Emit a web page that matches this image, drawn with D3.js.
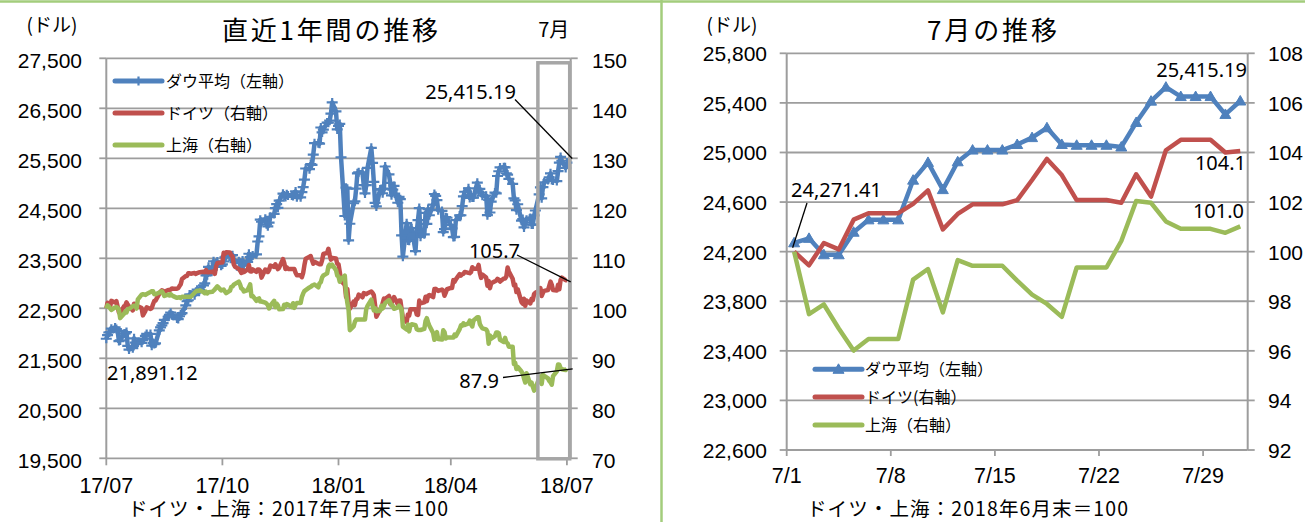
<!DOCTYPE html>
<html><head><meta charset="utf-8">
<script src="https://cdn.jsdelivr.net/npm/d3@7"></script>
<style>
html,body{margin:0;padding:0;background:#fff;}
svg{display:block;}
</style></head><body>
<svg id="chart" width="1305" height="522"></svg>
<script>
// ---------------- DATA ----------------
// Left chart: daily (weekdays) from 2017-07-31 to 2018-07-31
const leftStartDate = "2017-07-31";
const dowDaily = [
21891,21964,22016,22026,22093, 22118,22085,22048,21844,21858, 21993,21998,22025,21750,21675,
21703,21899,21812,21783,21814, 21809,21865,21892,21948,21988, 21988,21753,21807,21784,21798,
22057,22118,22159,22203,22268, 22331,22370,22412,22359,22349, 22296,22284,22341,22381,22405,
22557,22641,22661,22775,22773, 22761,22830,22872,22841,22871, 22957,22998,23158,23163,23329,
23274,23441,23330,23401,23434, 23349,23377,23436,23517,23539, 23548,23557,23563,23462,23422,
23440,23410,23272,23458,23358, 23430,23591,23526,23526,23558, 23580,23836,23940,24272,24231,
24290,24180,24140,24212,24329, 24387,24505,24585,24509,24652, 24792,24754,24726,24782,24754,
24754,24746,24774,24838,24719, 24719,24824,24922,25075,25296, 25283,25386,25370,25575,25803,
25803,25793,26116,26018,26072, 26215,26211,26252,26393,26617, 26439,26077,26149,26187,25521,
24346,24913,24893,23860,24191, 24601,24640,24893,25200,25219, 25219,24965,24798,24962,25310,
25709,25410,25029,24608,24538, 24875,24885,24801,24895,25336, 25178,25008,24759,24874,24947,
24611,24727,24683,23958,23533, 24202,23857,23849,24103,24103, 23644,24034,24265,24505,23933,
23979,24408,24190,24484,24361, 24573,24786,24748,24665,24463, 24448,24024,24084,24323,24311,
24163,24100,23925,23930,24263, 24358,24361,24543,24740,24831, 24900,24706,24769,24714,24715,
25013,24835,24887,24812,24753, 24753,24362,24668,24416,24635, 24814,24800,25146,25241,25317,
25323,25320,25201,25175,25090, 24988,24700,24657,24462,24581, 24253,24284,24117,24216,24271,
24307,24175,24175,24357,24456, 24777,24920,24700,24925,25019, 25064,25120,25199,25065,25058,
25044,25242,25414,25527,25451, 25307,25415.19
];
const germanyDaily = [
100.00,101.10,100.52,100.29,101.48, 101.15,101.43,100.29,99.14,99.14, 100.39,100.49,101.19,100.71,100.39,
99.57,100.91,100.47,100.51,100.41, 100.04,98.58,99.04,99.49,100.20, 99.87,100.05,100.80,101.47,101.53,
102.94,103.35,103.59,103.48,103.31, 103.65,103.65,103.73,103.98,103.91, 103.93,104.02,104.45,104.83,105.86,
106.48,106.48,107.03,107.01,106.91, 107.08,106.86,107.03,107.13,107.21, 107.31,107.23,107.64,107.20,107.20,
107.30,107.38,106.89,108.38,109.07, 109.17,109.17,111.11,110.91,111.23, 111.15,110.63,110.43,108.79,108.32,
107.89,107.55,107.08,107.66,107.23, 107.76,108.66,107.40,107.34,107.77, 107.28,107.77,107.78,107.47,106.13,
107.76,107.67,107.26,107.65,108.55, 108.29,108.79,108.32,107.84,108.13, 109.85,109.05,107.85,108.18,107.88,
107.88,107.88,107.85,107.10,106.60, 106.60,106.21,107.10,108.65,109.92, 110.30,110.45,109.60,108.94,109.30,
108.93,108.79,108.79,109.60,110.86, 111.10,111.90,110.70,109.74,110.08, 109.95,108.90,108.84,107.31,105.50,
104.69,102.26,103.89,101.17,99.91, 101.35,100.64,101.82,101.87,102.75, 102.20,103.05,102.90,102.83,103.02,
103.37,103.07,102.62,100.59,98.31, 99.77,99.97,101.05,101.95,101.88, 102.47,100.86,100.99,101.87,102.24,
100.81,101.56,101.57,99.85,98.08, 97.27,98.78,98.53,99.82,99.82, 99.82,98.78,98.67,101.54,101.01,
101.18,102.30,101.44,102.45,102.67, 102.25,103.85,103.89,103.70,103.48, 103.74,103.56,102.51,103.15,103.81,
104.07,104.07,105.64,105.32,105.79, 106.85,106.55,106.81,106.90,107.28, 107.09,107.03,107.24,108.22,107.92,
107.92,108.68,107.09,106.08,106.76, 106.15,104.52,105.49,104.02,105.00, 105.39,105.53,105.88,105.72,105.35,
105.97,105.97,106.37,108.16,107.37, 105.92,104.61,104.76,103.25,103.81, 101.25,100.91,101.90,100.49,101.55,
100.99,101.90,101.65,102.85,103.12, 103.51,104.06,102.47,103.09,103.49, 103.65,104.49,105.35,104.69,103.66,
103.55,104.71,103.81,105.70,106.12, 105.61,105.67
];
const shanghaiDaily = [
100.00,100.60,100.37,100.00,99.67, 100.20,100.27,100.08,99.66,98.03, 98.91,99.33,99.19,99.86,99.87,
100.42,100.53,100.45,99.95,101.79, 102.74,102.82,102.77,102.68,102.87, 103.26,103.40,103.43,102.83,102.82,
103.16,103.25,103.40,103.01,102.46, 102.74,102.56,102.84,102.59,102.43, 102.09,102.16,102.21,102.04,102.32,
102.32,102.32,102.32,102.32,102.32, 103.10,103.36,103.52,103.45,103.59, 103.22,103.02,103.32,102.97,103.23,
103.29,103.52,103.78,104.11,104.39, 103.58,103.68,103.75,103.37,103.02, 103.52,104.29,104.35,104.73,104.88,
105.34,104.78,103.96,103.86,103.36, 103.65,104.20,104.81,102.41,102.47, 101.50,101.85,101.98,101.35,101.36,
101.12,100.94,100.64,99.97,100.52, 101.50,100.24,100.92,100.59,99.79, 99.84,100.72,100.45,100.83,100.73,
100.23,101.01,100.08,100.71,101.04, 101.04,102.30,102.94,103.44,103.63, 104.17,104.30,104.55,104.65,104.76,
104.20,105.00,105.24,106.16,106.56, 106.98,108.36,108.75,108.41,108.71, 107.64,106.57,106.35,105.31,105.78,
106.55,102.98,101.11,99.66,95.63, 96.37,97.31,97.74,97.74,97.74, 97.74,97.74,97.74,99.86,100.49,
101.73,100.58,99.58,100.02,99.43, 99.51,100.51,99.96,100.47,101.04, 101.64,101.14,100.56,100.55,99.90,
100.19,100.54,100.24,99.71,96.33, 95.74,96.75,95.39,96.56,96.82, 96.64,95.83,95.66,95.66,95.66,
95.88,97.47,98.02,97.16,96.52, 95.04,93.70,94.45,95.24,93.84, 93.74,95.60,95.26,93.95,94.17,
94.17,94.17,94.14,94.74,94.44, 95.83,96.59,96.52,96.99,96.65, 96.98,97.53,96.84,96.37,97.56,
98.19,98.21,96.82,96.38,95.98, 95.78,95.34,92.91,94.58,93.95, 94.44,95.15,95.18,95.00,93.71,
93.27,94.10,93.18,93.01,92.33, 92.33,88.84,89.08,87.86,88.29, 87.36,86.91,85.95,85.15,87.00,
84.80,85.15,84.30,83.53,83.94, 86.01,86.39,84.87,86.70,86.50, 85.98,85.49,85.16,84.71,86.44,
87.37,88.77,88.71,88.06,87.80, 87.66,87.88
];
const leftDowTicks = [19500,20500,21500,22500,23500,24500,25500,26500,27500];
const leftIdxTicks = [70,80,90,100,110,120,130,140,150];
const leftDateTicks = ["2017-07-31","2017-10-31","2018-01-31","2018-04-30","2018-07-31"];
const leftDateLabels = ["17/07","17/10","18/01","18/04","18/07"];
const julyBox = ["2018-07-08","2018-08-03"];

// Right chart: July 2018, daily (calendar days)
const julyDays = [1,2,3,4,5,6,7,8,9,10,11,12,13,14,15,16,17,18,19,20,21,22,23,24,25,26,27,28,29,30,31];
const dowJuly = [24271.41,24307.18,24174.82,24174.82,24356.74,24456.48,24456.48,24456.48,24776.59,24919.66,
  24700.45,24924.89,25019.41,25019.41,25019.41,25064.36,25119.89,25199.29,25064.50,25058.12,25058.12,
  25058.12,25044.29,25241.94,25414.10,25527.07,25451.06,25451.06,25451.06,25306.83,25415.19];
const germanyJuly = [100.00,99.45,100.35,100.09,101.29,101.55,101.55,101.55,101.93,102.47,100.90,101.52,
  101.91,101.91,101.91,102.08,102.89,103.74,103.09,102.08,102.08,102.08,101.97,103.12,102.22,104.09,
  104.51,104.51,104.51,104.00,104.06];
const shanghaiJuly = [100.00,97.48,97.87,96.90,96.01,96.48,96.48,96.48,98.87,99.30,97.55,99.66,99.43,
  99.43,99.43,98.83,98.27,97.89,97.37,99.36,99.36,99.36,100.43,102.04,101.97,101.22,100.92,100.92,
  100.92,100.76,101.02];
const rightDowTicks = [22600,23000,23400,23800,24200,24600,25000,25400,25800];
const rightIdxTicks = [92,94,96,98,100,102,104,106,108];
const julyTickDays = [1,8,15,22,29];
const julyTickLabels = ["7/1","7/8","7/15","7/22","7/29"];

const seriesNames = ["ダウ平均（左軸）","ドイツ（右軸）","上海（右軸）"];
const seriesNamesRight = ["ダウ平均（左軸）","ドイツ(右軸）","上海（右軸）"];

// ---------------- STYLE ----------------
const C = {blue:"#4F81BD", red:"#C0504D", green:"#9BBB59", grid:"#9d9d9d", frame:"#a3cd7c"};
const JP = "'Noto Sans CJK JP','Noto Sans',sans-serif";
const NUM = "'Liberation Sans',Arial,sans-serif";
const ANN = "'Noto Sans','DejaVu Sans',sans-serif";

const svg = d3.select("#chart");
const fmt = d3.format(",");
const parse = d3.timeParse("%Y-%m-%d");

// frame
svg.append("line").attr("x1",0).attr("x2",1305).attr("y1",1.5).attr("y2",1.5)
  .attr("stroke",C.frame).attr("stroke-width",2.5);
svg.append("line").attr("x1",661.5).attr("x2",661.5).attr("y1",0).attr("y2",522)
  .attr("stroke",C.frame).attr("stroke-width",2.5);

function txt(g, x, y, s, size, fam, anchor, extra) {
  const t = g.append("text").attr("x",x).attr("y",y).text(s)
    .attr("font-size",size).attr("font-family",fam).attr("fill","#000")
    .attr("text-anchor",anchor||"start");
  if (extra) Object.entries(extra).forEach(([k,v]) => t.attr(k,v));
  return t;
}
const plusPath = "M-5.5,0H5.5M0,-4.5V4.5";
const triPath = "M0,-5.5L5.5,4L-5.5,4Z";

// ================= LEFT CHART =================
{
  const g = svg.append("g");
  const X0 = 106.3, X1 = 570.7, Y0 = 458.3, Y1 = 58.3;
  const x = d3.scaleTime().domain([parse("2017-07-31"), parse("2018-08-03")]).range([X0, X1]);
  const y = d3.scaleLinear().domain([19500, 27500]).range([Y0, Y1]);
  const yr = d3.scaleLinear().domain([70, 150]).range([Y0, Y1]);

  const start = parse(leftStartDate);
  const dates = d3.timeDay.range(start, d3.timeDay.offset(start, 400))
    .filter(d => d.getDay() !== 0 && d.getDay() !== 6);

  g.selectAll(".gl").data(leftDowTicks).join("line")
    .attr("x1",X0).attr("x2",X1).attr("y1",d=>y(d)).attr("y2",d=>y(d))
    .attr("stroke",C.grid).attr("stroke-width",1.8);
  g.append("line").attr("x1",X0).attr("x2",X0).attr("y1",Y1).attr("y2",Y0).attr("stroke",C.grid).attr("stroke-width",2);
  g.append("line").attr("x1",X1).attr("x2",X1).attr("y1",Y1).attr("y2",Y0).attr("stroke",C.grid).attr("stroke-width",2);
  g.selectAll(".tl").data(leftDowTicks).join("line")
    .attr("x1",X0-7).attr("x2",X0).attr("y1",d=>y(d)).attr("y2",d=>y(d)).attr("stroke",C.grid).attr("stroke-width",1.8);
  g.selectAll(".tr").data(leftIdxTicks).join("line")
    .attr("x1",X1).attr("x2",X1+7).attr("y1",d=>yr(d)).attr("y2",d=>yr(d)).attr("stroke",C.grid).attr("stroke-width",1.8);
  g.selectAll(".tb").data(leftDateTicks).join("line")
    .attr("x1",d=>x(parse(d))).attr("x2",d=>x(parse(d))).attr("y1",Y0).attr("y2",Y0+7).attr("stroke",C.grid).attr("stroke-width",1.8);

  leftDowTicks.forEach(v => txt(g, 82, y(v)+10, fmt(v), 21, NUM, "end"));
  leftIdxTicks.forEach(v => txt(g, 592, yr(v)+10, String(v), 21, NUM, "start"));
  leftDateTicks.forEach((d,i) => txt(g, x(parse(d)), 493, leftDateLabels[i], 21.5, NUM, "middle"));

  const n = dowDaily.length;
  const dD = dates.slice(0, n);
  const lineDow = d3.line().x((d,i)=>x(dD[i])).y(d=>y(d));
  const lineIdx = d3.line().x((d,i)=>x(dD[i])).y(d=>yr(d));
  g.append("path").attr("d",lineDow(dowDaily)).attr("fill","none").attr("stroke",C.blue)
    .attr("stroke-width",4.5).attr("stroke-linejoin","round");
  g.selectAll(".mk").data(dowDaily).join("path")
    .attr("d",plusPath).attr("transform",(d,i)=>`translate(${x(dD[i])},${y(d)})`)
    .attr("stroke",C.blue).attr("stroke-width",2.2).attr("fill","none");
  g.append("path").attr("d",lineIdx(germanyDaily)).attr("fill","none").attr("stroke",C.red)
    .attr("stroke-width",4.5).attr("stroke-linejoin","round");
  g.append("path").attr("d",lineIdx(shanghaiDaily)).attr("fill","none").attr("stroke",C.green)
    .attr("stroke-width",4.5).attr("stroke-linejoin","round");

  const bx0 = x(parse(julyBox[0])), bx1 = x(parse(julyBox[1])) - 1;
  g.append("rect").attr("x",bx0).attr("y",Y1+4.5).attr("width",bx1-bx0).attr("height",Y0-Y1-4)
    .attr("fill","none").attr("stroke","#a6a6a6").attr("stroke-width",3.5);
  txt(g, (bx0+bx1)/2, 37, "7月", 20, JP, "middle");

  const legY = [81, 113, 145], legC = [C.blue, C.red, C.green];
  legY.forEach((ly,i) => {
    g.append("line").attr("x1",115).attr("x2",162).attr("y1",ly).attr("y2",ly)
      .attr("stroke",legC[i]).attr("stroke-width",5).attr("stroke-linecap","round");
    if (i===0) g.append("path").attr("d",plusPath).attr("transform",`translate(138.5,${ly})`)
      .attr("stroke",C.blue).attr("stroke-width",2.2);
    txt(g, 166, ly+6, seriesNames[i], 16, JP, "start");
  });

  const lastI = n-1;
  const ann = (s, tx, ty, anchor, l) => {
    txt(g, tx, ty, s, 20, ANN, anchor);
    if (l) g.append("line").attr("x1",l[0]).attr("y1",l[1]).attr("x2",l[2]).attr("y2",l[3])
      .attr("stroke","#000").attr("stroke-width",1.3);
  };
  ann("25,415.19", 516, 99, "end", [515, 99.5, X1+1.5, y(dowDaily[lastI])-4]);
  ann("105.7", 520, 258, "end", [517, 255, X1, yr(germanyDaily[lastI])+2]);
  ann("87.9", 499, 388, "end", [503, 377.5, X1+2, yr(shanghaiDaily[lastI])]);
  ann("21,891.12", 107, 380, "start", null);

  txt(g, 52, 31.5, "(ドル)", 19, JP, "middle");
  txt(g, 222, 40, "直近1年間の推移", 26, JP, "start", {textLength:216, lengthAdjust:"spacing"});
  txt(g, 128, 516, "ドイツ・上海：2017年7月末＝100", 19.5, JP, "start", {textLength:320, lengthAdjust:"spacing"});
}

// ================= RIGHT CHART =================
{
  const g = svg.append("g");
  const X0 = 786.7, X1 = 1247.7, Y0 = 450, Y1 = 53.3;
  const x = d3.scaleLinear().domain([1, 32]).range([X0, X1]);
  const y = d3.scaleLinear().domain([22600, 25800]).range([Y0, Y1]);
  const yr = d3.scaleLinear().domain([92, 108]).range([Y0, Y1]);
  const px = d => x(d + 0.5);

  g.selectAll(".gl").data(rightDowTicks).join("line")
    .attr("x1",X0).attr("x2",X1).attr("y1",d=>y(d)).attr("y2",d=>y(d))
    .attr("stroke",C.grid).attr("stroke-width",1.8);
  g.append("line").attr("x1",X0).attr("x2",X0).attr("y1",Y1).attr("y2",Y0).attr("stroke",C.grid).attr("stroke-width",2);
  g.append("line").attr("x1",X1).attr("x2",X1).attr("y1",Y1).attr("y2",Y0).attr("stroke",C.grid).attr("stroke-width",2);
  g.selectAll(".tl").data(rightDowTicks).join("line")
    .attr("x1",X0-7).attr("x2",X0).attr("y1",d=>y(d)).attr("y2",d=>y(d)).attr("stroke",C.grid).attr("stroke-width",1.8);
  g.selectAll(".tr").data(rightIdxTicks).join("line")
    .attr("x1",X1).attr("x2",X1+7).attr("y1",d=>yr(d)).attr("y2",d=>yr(d)).attr("stroke",C.grid).attr("stroke-width",1.8);
  g.selectAll(".tb").data(julyTickDays).join("line")
    .attr("x1",d=>x(d)).attr("x2",d=>x(d)).attr("y1",Y0).attr("y2",Y0+6).attr("stroke",C.grid).attr("stroke-width",1.8);

  rightDowTicks.forEach(v => txt(g, 767, y(v)+8, fmt(v), 21, NUM, "end"));
  rightIdxTicks.forEach(v => txt(g, 1268, yr(v)+8, String(v), 21, NUM, "start"));
  julyTickDays.forEach((d,i) => txt(g, x(d), 483, julyTickLabels[i], 21.5, NUM, "middle"));

  const lineDow = d3.line().x((d,i)=>px(julyDays[i])).y(d=>y(d));
  const lineIdx = d3.line().x((d,i)=>px(julyDays[i])).y(d=>yr(d));
  g.append("path").attr("d",lineDow(dowJuly)).attr("fill","none").attr("stroke",C.blue)
    .attr("stroke-width",4.5).attr("stroke-linejoin","round");
  g.selectAll(".mk").data(dowJuly).join("path")
    .attr("d",triPath).attr("transform",(d,i)=>`translate(${px(julyDays[i])},${y(d)})`)
    .attr("fill",C.blue).attr("stroke",C.blue).attr("stroke-width",1);
  g.append("path").attr("d",lineIdx(germanyJuly)).attr("fill","none").attr("stroke",C.red)
    .attr("stroke-width",4.5).attr("stroke-linejoin","round");
  g.append("path").attr("d",lineIdx(shanghaiJuly)).attr("fill","none").attr("stroke",C.green)
    .attr("stroke-width",4.5).attr("stroke-linejoin","round");

  const legY = [369.3, 397, 425], legC = [C.blue, C.red, C.green];
  legY.forEach((ly,i) => {
    g.append("line").attr("x1",815).attr("x2",862).attr("y1",ly).attr("y2",ly)
      .attr("stroke",legC[i]).attr("stroke-width",5).attr("stroke-linecap","round");
    if (i===0) g.append("path").attr("d",triPath).attr("transform",`translate(838.5,${ly})`)
      .attr("fill",C.blue).attr("stroke",C.blue);
    txt(g, 865, ly+6, seriesNamesRight[i], 16, JP, "start");
  });

  const last = julyDays.length - 1;
  txt(g, 791, 196.5, "24,271.41", 20, ANN, "start");
  g.append("line").attr("x1",807).attr("y1",203).attr("x2",px(julyDays[0])-1.5).attr("y2",y(dowJuly[0])+5)
    .attr("stroke","#000").attr("stroke-width",1.3);
  txt(g, 1247, 77, "25,415.19", 20, ANN, "end");
  txt(g, 1246, 170, germanyJuly[last].toFixed(1), 20, ANN, "end");
  txt(g, 1244, 218, shanghaiJuly[last].toFixed(1), 20, ANN, "end");

  txt(g, 732, 31.5, "(ドル)", 19, JP, "middle");
  txt(g, 927, 40, "7月の推移", 26, JP, "start", {textLength:130, lengthAdjust:"spacing"});
  txt(g, 807, 516, "ドイツ・上海：2018年6月末＝100", 19.5, JP, "start", {textLength:321, lengthAdjust:"spacing"});
}
</script>
</body></html>
